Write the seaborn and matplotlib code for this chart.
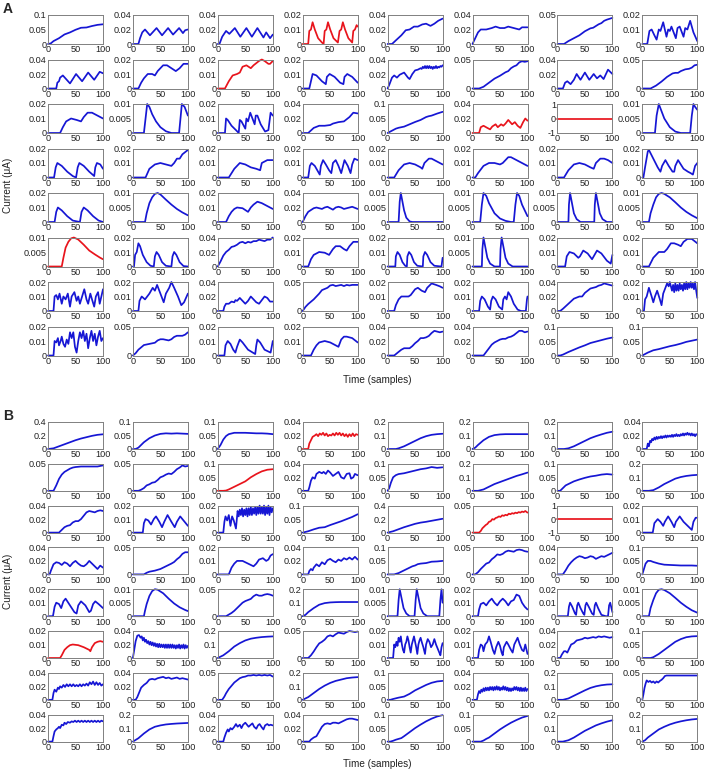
import matplotlib
matplotlib.use("Agg")
import matplotlib.pyplot as plt
import seaborn as sns

sns.set_style("white")
plt.rcParams["font.family"] = ["Liberation Sans", "DejaVu Sans"]

# ------------------------------------------------------------------
# Data: each trace is a list of (sample, current uA)
# ------------------------------------------------------------------
x_ticks = [0, 50, 100]

a_ymax = [
    [0.1, 0.04, 0.04, 0.02, 0.04, 0.04, 0.05, 0.02],
    [0.04, 0.02, 0.02, 0.02, 0.04, 0.05, 0.04, 0.05],
    [0.02, 0.01, 0.02, 0.04, 0.1, 0.04, 1, 0.01],
    [0.02, 0.02, 0.02, 0.02, 0.02, 0.02, 0.02, 0.02],
    [0.02, 0.01, 0.02, 0.04, 0.01, 0.01, 0.01, 0.01],
    [0.01, 0.02, 0.04, 0.02, 0.02, 0.01, 0.02, 0.02],
    [0.02, 0.02, 0.04, 0.05, 0.02, 0.02, 0.04, 0.02],
    [0.02, 0.05, 0.02, 0.02, 0.04, 0.04, 0.1, 0.1],
]
a_red = [(0, 3), (1, 2), (2, 5), (2, 6), (5, 0)]

a_row1 = [
    [(0, 0), (5, 0.002), (10, 0.01), (20, 0.02), (30, 0.033), (40, 0.04), (50, 0.049), (60, 0.056), (70, 0.057), (80, 0.062), (90, 0.066), (100, 0.068)],
    [(0, 0), (10, 0), (13, 0.008), (17, 0.016), (22, 0.02), (31, 0.012), (43, 0.022), (53, 0.012), (64, 0.022), (73, 0.013), (84, 0.022), (91, 0.015), (95, 0.019), (100, 0.02)],
    [(0, 0), (3, 0), (8, 0.01), (15, 0.018), (21, 0.014), (31, 0.022), (41, 0.01), (52, 0.022), (62, 0.01), (72, 0.022), (83, 0.009), (88, 0.016), (95, 0.008), (100, 0.013)],
    [(0, 0), (10, 0), (12, 0.009), (15, 0.01), (18, 0.015), (22, 0.01), (28, 0.004), (35, 0.001), (38, 0), (40, 0.009), (43, 0.01), (46, 0.015), (50, 0.01), (56, 0.004), (64, 0.001), (67, 0.009), (70, 0.01), (73, 0.015), (77, 0.01), (83, 0.004), (90, 0.001), (92, 0.009), (95, 0.01), (98, 0.013), (100, 0.012)],
    [(0, 0), (8, 0), (15, 0.005), (25, 0.012), (33, 0.019), (40, 0.02), (48, 0.024), (55, 0.024), (63, 0.027), (70, 0.028), (78, 0.025), (85, 0.028), (92, 0.032), (100, 0.035)],
    [(0, 0), (5, 0.008), (10, 0.016), (15, 0.02), (25, 0.02), (35, 0.022), (42, 0.024), (50, 0.022), (58, 0.022), (65, 0.024), (75, 0.022), (85, 0.02), (90, 0.023), (100, 0.023)],
    [(0, 0), (12, 0), (20, 0.005), (30, 0.01), (40, 0.015), (50, 0.022), (60, 0.027), (65, 0.028), (75, 0.034), (80, 0.036), (85, 0.04), (90, 0.042), (100, 0.045)],
    [(0, 0), (9, 0), (13, 0.009), (17, 0.01), (22, 0.006), (26, 0.003), (30, 0.01), (33, 0.009), (38, 0.015), (44, 0.005), (47, 0.01), (50, 0.009), (53, 0.012), (61, 0.004), (64, 0.011), (68, 0.012), (75, 0.005), (78, 0.011), (82, 0.01), (87, 0.016), (93, 0.008), (100, 0.002)],
]
a_row2 = [
    [(0, 0), (15, 0), (17, 0.008), (20, 0.01), (22, 0.015), (27, 0.018), (40, 0.007), (51, 0.02), (62, 0.01), (73, 0.022), (84, 0.012), (94, 0.023), (100, 0.021)],
    [(0, 0), (10, 0), (15, 0.004), (20, 0.007), (27, 0.01), (35, 0.01), (40, 0.009), (45, 0.012), (55, 0.016), (62, 0.016), (70, 0.014), (78, 0.012), (85, 0.014), (92, 0.017), (100, 0.017)],
    [(0, 0), (13, 0), (20, 0.005), (27, 0.009), (35, 0.01), (40, 0.011), (45, 0.015), (52, 0.016), (60, 0.014), (65, 0.016), (75, 0.019), (80, 0.02), (85, 0.019), (92, 0.017), (95, 0.017), (100, 0.019)],
    [(0, 0), (12, 0), (18, 0.01), (25, 0.009), (35, 0.005), (42, 0.003), (44, 0.008), (49, 0.01), (58, 0.008), (68, 0.004), (74, 0.003), (76, 0.008), (81, 0.01), (90, 0.008), (100, 0.004)],
    [(0, 0), (3, 0.005), (8, 0.015), (12, 0.018), (17, 0.015), (22, 0.019), (30, 0.022), (37, 0.015), (40, 0.013), (45, 0.02), (50, 0.025), (55, 0.026), (60, 0.028), (62, 0.027), (64, 0.03), (66, 0.028), (68, 0.031), (70, 0.028), (72, 0.031), (74, 0.028), (76, 0.031), (78, 0.028), (80, 0.03), (82, 0.027), (84, 0.03), (86, 0.028), (88, 0.031), (90, 0.028), (92, 0.03), (94, 0.029), (96, 0.031), (98, 0.03), (100, 0.032)],
    [(0, 0), (12, 0), (20, 0.003), (30, 0.01), (40, 0.017), (50, 0.022), (60, 0.028), (65, 0.03), (70, 0.035), (75, 0.038), (80, 0.04), (85, 0.045), (90, 0.047), (95, 0.046), (100, 0.047)],
    [(0, 0), (10, 0), (14, 0.008), (18, 0.01), (24, 0.006), (30, 0.012), (35, 0.02), (42, 0.012), (50, 0.022), (58, 0.012), (66, 0.02), (72, 0.014), (78, 0.018), (84, 0.013), (92, 0.026), (100, 0.02)],
    [(0, 0), (15, 0), (25, 0.005), (35, 0.012), (45, 0.02), (55, 0.026), (60, 0.027), (65, 0.027), (70, 0.03), (78, 0.033), (85, 0.034), (90, 0.036), (95, 0.04), (100, 0.041)],
]
a_row3 = [
    [(0, 0), (22, 0), (27, 0.004), (33, 0.008), (42, 0.01), (52, 0.009), (60, 0.008), (65, 0.011), (72, 0.014), (80, 0.014), (90, 0.012), (100, 0.01)],
    [(0, 0), (20, 0), (23, 0.005), (26, 0.01), (30, 0.009), (35, 0.0065), (42, 0.004), (50, 0.002), (60, 0.0006), (70, 0), (84, 0), (87, 0.006), (89, 0.01), (94, 0.009), (100, 0.006)],
    [(0, 0), (13, 0), (15, 0.01), (18, 0.009), (25, 0.005), (33, 0.002), (38, 0), (40, 0.009), (43, 0.008), (50, 0.003), (52, 0.01), (55, 0.008), (59, 0.014), (63, 0.01), (67, 0.006), (69, 0.012), (72, 0.012), (78, 0.006), (86, 0.001), (92, 0.002), (96, 0.014), (100, 0.012)],
    [(0, 0), (10, 0), (20, 0.007), (30, 0.01), (40, 0.01), (50, 0.011), (55, 0.013), (65, 0.015), (75, 0.016), (85, 0.022), (92, 0.028), (100, 0.027)],
    [(0, 0), (5, 0.005), (10, 0.01), (15, 0.015), (20, 0.018), (30, 0.022), (40, 0.03), (50, 0.038), (60, 0.045), (70, 0.055), (75, 0.058), (80, 0.06), (90, 0.067), (100, 0.073)],
    [(0, 0), (12, 0), (15, 0.008), (20, 0.01), (27, 0.007), (32, 0.005), (36, 0.009), (42, 0.012), (46, 0.008), (52, 0.012), (56, 0.01), (60, 0.013), (65, 0.018), (72, 0.012), (77, 0.015), (82, 0.01), (87, 0.007), (92, 0.015), (96, 0.02), (100, 0.017)],
    [(0, 0), (100, 0)],
    [(0, 0), (23, 0), (26, 0.006), (30, 0.01), (35, 0.0075), (40, 0.005), (50, 0.002), (60, 0.0005), (70, 0), (87, 0), (90, 0.006), (93, 0.01), (96, 0.009), (100, 0.008)],
]
a_row4 = [
    [(0, 0), (11, 0), (14, 0.007), (17, 0.01), (25, 0.008), (35, 0.004), (45, 0.001), (51, 0), (54, 0.007), (57, 0.01), (65, 0.008), (75, 0.004), (84, 0.001), (86, 0.007), (89, 0.01), (95, 0.009), (100, 0.006)],
    [(0, 0), (23, 0), (30, 0.006), (40, 0.009), (50, 0.01), (60, 0.009), (70, 0.008), (75, 0.01), (80, 0.013), (85, 0.013), (90, 0.016), (100, 0.019)],
    [(0, 0), (20, 0), (30, 0.006), (40, 0.01), (50, 0.009), (60, 0.007), (70, 0.006), (77, 0.005), (80, 0.01), (90, 0.012), (100, 0.012)],
    [(0, 0), (10, 0), (13, 0.008), (16, 0.01), (22, 0.008), (28, 0.004), (31, 0.002), (33, 0.008), (37, 0.012), (42, 0.009), (48, 0.005), (52, 0.003), (55, 0.01), (60, 0.012), (65, 0.008), (70, 0.003), (72, 0.006), (76, 0.012), (82, 0.008), (87, 0.003), (90, 0.009), (94, 0.013), (100, 0.012)],
    [(0, 0), (12, 0), (20, 0.005), (30, 0.009), (40, 0.01), (50, 0.009), (60, 0.007), (63, 0.006), (67, 0.01), (75, 0.013), (80, 0.013), (90, 0.011), (100, 0.009)],
    [(0, 0), (5, 0), (10, 0.003), (20, 0.008), (30, 0.01), (40, 0.01), (50, 0.009), (55, 0.01), (60, 0.012), (65, 0.014), (70, 0.014), (80, 0.012), (90, 0.01), (100, 0.008)],
    [(0, 0), (12, 0), (20, 0.005), (30, 0.009), (40, 0.01), (50, 0.009), (60, 0.007), (66, 0.006), (70, 0.01), (78, 0.013), (85, 0.013), (92, 0.012), (100, 0.01)],
    [(0, 0), (2, 0), (5, 0.007), (10, 0.018), (12, 0.019), (20, 0.013), (28, 0.007), (33, 0.004), (36, 0.008), (42, 0.012), (48, 0.008), (55, 0.004), (58, 0.004), (60, 0.008), (65, 0.012), (75, 0.006), (83, 0.004), (88, 0.003), (92, 0.002), (96, 0.008), (100, 0.01)],
]
a_row5 = [
    [(0, 0), (12, 0), (15, 0.007), (18, 0.01), (25, 0.008), (35, 0.004), (45, 0.001), (58, 0), (61, 0.007), (65, 0.01), (72, 0.008), (82, 0.004), (92, 0.001), (100, 0)],
    [(0, 0), (22, 0), (25, 0.003), (30, 0.0065), (35, 0.0085), (40, 0.0097), (45, 0.01), (50, 0.0095), (60, 0.0077), (70, 0.006), (80, 0.0045), (90, 0.0033), (100, 0.0023)],
    [(0, 0), (15, 0), (20, 0.004), (25, 0.007), (30, 0.009), (35, 0.01), (45, 0.0095), (55, 0.007), (60, 0.01), (65, 0.012), (72, 0.014), (80, 0.013), (90, 0.011), (100, 0.009)],
    [(0, 0), (5, 0.008), (10, 0.014), (20, 0.019), (25, 0.02), (30, 0.019), (35, 0.018), (40, 0.02), (45, 0.021), (50, 0.019), (55, 0.017), (60, 0.02), (65, 0.021), (70, 0.02), (75, 0.018), (80, 0.019), (85, 0.02), (90, 0.021), (100, 0.018)],
    [(0, 0), (20, 0), (22, 0.007), (24, 0.01), (27, 0.007), (30, 0.004), (34, 0.0015), (40, 0.0002), (45, 0), (100, 0)],
    [(0, 0), (14, 0), (17, 0.006), (20, 0.01), (25, 0.009), (30, 0.0065), (40, 0.003), (50, 0.0012), (60, 0.0004), (70, 0), (75, 0), (78, 0.006), (81, 0.01), (85, 0.009), (90, 0.006), (100, 0.002)],
    [(0, 0), (20, 0), (21, 0.006), (23, 0.01), (26, 0.007), (30, 0.003), (35, 0.001), (42, 0), (67, 0), (68, 0.006), (70, 0.01), (73, 0.007), (77, 0.003), (82, 0.001), (90, 0), (100, 0)],
    [(0, 0), (12, 0), (15, 0.003), (20, 0.006), (25, 0.0085), (30, 0.0097), (35, 0.01), (40, 0.0097), (50, 0.0085), (60, 0.0068), (70, 0.005), (80, 0.0035), (90, 0.0023), (100, 0.0013)],
]
a_row6 = [
    [(0, 0), (25, 0), (28, 0.003), (32, 0.0065), (37, 0.0085), (42, 0.0097), (47, 0.01), (55, 0.0093), (65, 0.0075), (75, 0.0055), (85, 0.0042), (95, 0.003), (100, 0.0025)],
    [(0, 0), (2, 0), (4, 0.008), (7, 0.01), (10, 0.016), (13, 0.014), (18, 0.008), (25, 0.003), (32, 0.0005), (38, 0), (40, 0.007), (43, 0.01), (47, 0.008), (53, 0.003), (60, 0.0005), (70, 0), (72, 0.007), (75, 0.01), (79, 0.008), (85, 0.003), (92, 0.0003), (100, 0)],
    [(0, 0), (5, 0.007), (10, 0.015), (15, 0.02), (20, 0.023), (25, 0.027), (30, 0.028), (35, 0.03), (40, 0.033), (45, 0.034), (50, 0.032), (55, 0.034), (60, 0.033), (65, 0.035), (70, 0.035), (75, 0.037), (80, 0.036), (85, 0.035), (90, 0.037), (95, 0.037), (100, 0.04)],
    [(0, 0), (10, 0), (15, 0.005), (20, 0.008), (30, 0.01), (40, 0.0095), (48, 0.008), (55, 0.012), (60, 0.014), (68, 0.014), (75, 0.012), (80, 0.011), (85, 0.014), (92, 0.017), (100, 0.017)],
    [(0, 0), (14, 0), (15, 0.007), (18, 0.01), (22, 0.008), (27, 0.003), (32, 0.0005), (35, 0), (36, 0.007), (39, 0.01), (43, 0.008), (48, 0.003), (54, 0.0005), (64, 0), (65, 0.007), (68, 0.01), (72, 0.008), (78, 0.003), (85, 0.0005), (98, 0), (100, 0.006)],
    [(0, 0), (17, 0), (18, 0.006), (20, 0.01), (23, 0.007), (27, 0.003), (32, 0.001), (40, 0), (50, 0), (51, 0.006), (53, 0.01), (56, 0.007), (60, 0.003), (65, 0.001), (73, 0), (100, 0)],
    [(0, 0), (14, 0), (17, 0.007), (22, 0.01), (30, 0.009), (38, 0.006), (41, 0.007), (47, 0.011), (55, 0.009), (63, 0.005), (66, 0.007), (72, 0.011), (80, 0.009), (90, 0.004), (97, 0.002), (100, 0.008)],
    [(0, 0), (12, 0), (20, 0.006), (30, 0.01), (40, 0.01), (45, 0.012), (52, 0.016), (58, 0.016), (65, 0.015), (70, 0.014), (75, 0.017), (82, 0.019), (90, 0.019), (100, 0.016)],
]
a_row7 = [
    [(0, 0), (10, 0), (12, 0.01), (15, 0.011), (18, 0.008), (21, 0.012), (25, 0.005), (28, 0.01), (32, 0.008), (36, 0.012), (40, 0.003), (43, 0.01), (48, 0.013), (52, 0.007), (55, 0.01), (58, 0.005), (62, 0.01), (66, 0.015), (70, 0.008), (73, 0.005), (77, 0.012), (80, 0.008), (84, 0.003), (87, 0.01), (91, 0.013), (94, 0.005), (97, 0.01), (100, 0.015)],
    [(0, 0), (10, 0), (12, 0.007), (16, 0.01), (22, 0.008), (30, 0.012), (36, 0.016), (40, 0.014), (44, 0.018), (50, 0.012), (56, 0.006), (60, 0.012), (66, 0.016), (70, 0.02), (75, 0.016), (82, 0.01), (88, 0.004), (93, 0.006), (100, 0.012)],
    [(0, 0), (10, 0), (12, 0.006), (15, 0.01), (20, 0.01), (25, 0.013), (30, 0.012), (32, 0.015), (35, 0.014), (40, 0.018), (45, 0.014), (50, 0.01), (55, 0.014), (60, 0.02), (65, 0.016), (70, 0.012), (75, 0.01), (80, 0.015), (85, 0.02), (90, 0.018), (95, 0.013), (100, 0.013)],
    [(0, 0), (5, 0.007), (10, 0.012), (15, 0.016), (20, 0.02), (25, 0.025), (30, 0.03), (35, 0.036), (40, 0.038), (45, 0.04), (50, 0.044), (55, 0.045), (60, 0.043), (65, 0.044), (70, 0.045), (75, 0.043), (80, 0.045), (85, 0.044), (90, 0.045), (100, 0.045)],
    [(0, 0), (12, 0), (15, 0.004), (20, 0.008), (25, 0.01), (30, 0.01), (38, 0.01), (42, 0.011), (50, 0.015), (55, 0.016), (62, 0.014), (68, 0.013), (72, 0.016), (80, 0.019), (88, 0.018), (95, 0.017), (100, 0.016)],
    [(0, 0), (12, 0), (14, 0.007), (17, 0.01), (22, 0.008), (28, 0.003), (32, 0.001), (34, 0.007), (37, 0.01), (42, 0.008), (48, 0.003), (54, 0.001), (56, 0.008), (59, 0.01), (62, 0.008), (65, 0.013), (70, 0.01), (75, 0.005), (82, 0.001), (88, 0), (97, 0), (99, 0.008), (100, 0.01)],
    [(0, 0), (5, 0), (10, 0.003), (20, 0.01), (30, 0.017), (40, 0.02), (45, 0.02), (50, 0.025), (55, 0.028), (60, 0.031), (65, 0.032), (70, 0.033), (75, 0.035), (80, 0.036), (85, 0.038), (90, 0.037), (100, 0.035)],
    [(0, 0), (3, 0), (5, 0.008), (8, 0.01), (12, 0.016), (17, 0.01), (20, 0.006), (23, 0.01), (27, 0.014), (32, 0.008), (35, 0.004), (38, 0.012), (42, 0.016), (45, 0.019), (48, 0.017), (50, 0.02), (52, 0.017), (54, 0.014), (56, 0.018), (58, 0.013), (60, 0.019), (62, 0.014), (64, 0.018), (66, 0.014), (68, 0.019), (70, 0.015), (72, 0.018), (74, 0.014), (76, 0.019), (78, 0.015), (80, 0.02), (82, 0.015), (84, 0.019), (86, 0.016), (88, 0.02), (90, 0.016), (92, 0.019), (94, 0.015), (96, 0.02), (98, 0.014), (100, 0.009)],
]
a_row8 = [
    [(0, 0), (10, 0), (12, 0.01), (15, 0.009), (18, 0.012), (20, 0.007), (23, 0.01), (25, 0.013), (28, 0.008), (31, 0.006), (34, 0.011), (37, 0.008), (40, 0.016), (43, 0.012), (46, 0.016), (49, 0.006), (52, 0.002), (55, 0.01), (58, 0.016), (61, 0.012), (64, 0.017), (67, 0.01), (70, 0.015), (73, 0.005), (76, 0.012), (79, 0.017), (82, 0.01), (85, 0.015), (88, 0.007), (91, 0.013), (94, 0.017), (97, 0.01), (100, 0.012)],
    [(0, 0), (5, 0.004), (10, 0.01), (15, 0.014), (20, 0.018), (30, 0.02), (40, 0.022), (45, 0.026), (50, 0.028), (55, 0.028), (60, 0.027), (65, 0.026), (70, 0.028), (75, 0.032), (80, 0.034), (85, 0.034), (90, 0.034), (95, 0.036), (100, 0.04)],
    [(0, 0), (12, 0), (14, 0.007), (18, 0.01), (23, 0.008), (28, 0.004), (32, 0.002), (35, 0.006), (40, 0.011), (45, 0.009), (55, 0.004), (68, 0.001), (70, 0.007), (72, 0.011), (77, 0.009), (85, 0.004), (96, 0.002), (100, 0.01)],
    [(0, 0), (15, 0), (20, 0.004), (25, 0.007), (30, 0.009), (40, 0.01), (50, 0.009), (60, 0.007), (65, 0.006), (70, 0.011), (75, 0.013), (80, 0.013), (90, 0.012), (100, 0.009)],
    [(0, 0), (12, 0), (20, 0.005), (25, 0.008), (30, 0.01), (40, 0.01), (45, 0.013), (50, 0.017), (55, 0.02), (60, 0.024), (65, 0.024), (70, 0.025), (75, 0.027), (80, 0.031), (85, 0.034), (90, 0.033), (95, 0.032), (100, 0.033)],
    [(0, 0), (20, 0), (25, 0.005), (30, 0.01), (35, 0.015), (40, 0.018), (45, 0.02), (50, 0.022), (55, 0.023), (60, 0.023), (65, 0.025), (70, 0.026), (75, 0.028), (80, 0.031), (85, 0.034), (90, 0.034), (95, 0.032), (100, 0.033)],
    [(0, 0), (5, 0), (10, 0.003), (20, 0.012), (30, 0.02), (40, 0.028), (50, 0.035), (60, 0.043), (70, 0.048), (80, 0.053), (90, 0.058), (100, 0.062)],
    [(0, 0), (5, 0.005), (10, 0.01), (20, 0.018), (30, 0.022), (40, 0.027), (50, 0.032), (60, 0.036), (70, 0.041), (80, 0.047), (90, 0.051), (100, 0.055)],
]

b_ymax = [
    [0.4, 0.1, 0.1, 0.04, 0.2, 0.2, 0.2, 0.04],
    [0.05, 0.05, 0.1, 0.04, 0.1, 0.2, 0.1, 0.2],
    [0.04, 0.02, 0.02, 0.1, 0.4, 0.05, 1, 0.02],
    [0.04, 0.05, 0.02, 0.04, 0.1, 0.05, 0.04, 0.1],
    [0.02, 0.01, 0.05, 0.2, 0.01, 0.02, 0.02, 0.01],
    [0.02, 0.04, 0.2, 0.05, 0.02, 0.02, 0.04, 0.1],
    [0.04, 0.04, 0.05, 0.2, 0.1, 0.04, 0.2, 0.05],
    [0.04, 0.2, 0.04, 0.04, 0.1, 0.1, 0.2, 0.2],
]
b_red = [(0, 3), (1, 2), (2, 5), (2, 6), (5, 0)]

b_row1 = [
    [(0, 0), (10, 0.01), (20, 0.04), (30, 0.07), (40, 0.1), (50, 0.13), (60, 0.155), (70, 0.175), (80, 0.195), (90, 0.21), (100, 0.218)],
    [(0, 0), (5, 0), (10, 0.005), (20, 0.025), (30, 0.04), (40, 0.05), (50, 0.056), (60, 0.058), (70, 0.057), (80, 0.058), (90, 0.057), (100, 0.056)],
    [(0, 0), (5, 0.015), (10, 0.035), (15, 0.048), (20, 0.055), (30, 0.06), (40, 0.06), (50, 0.06), (60, 0.059), (70, 0.058), (80, 0.058), (90, 0.057), (100, 0.055)],
    [(0, 0), (10, 0), (12, 0.008), (15, 0.013), (18, 0.018), (22, 0.02), (25, 0.022), (28, 0.019), (31, 0.023), (34, 0.021), (37, 0.024), (40, 0.02), (43, 0.023), (46, 0.019), (49, 0.021), (52, 0.02), (55, 0.023), (58, 0.02), (61, 0.024), (64, 0.021), (67, 0.024), (70, 0.02), (73, 0.023), (76, 0.019), (79, 0.022), (82, 0.018), (85, 0.022), (88, 0.019), (91, 0.023), (94, 0.019), (97, 0.022), (100, 0.021)],
    [(0, 0), (15, 0), (20, 0.005), (30, 0.02), (40, 0.04), (50, 0.06), (60, 0.08), (70, 0.095), (80, 0.105), (90, 0.11), (100, 0.113)],
    [(0, 0), (5, 0.01), (10, 0.03), (20, 0.065), (30, 0.09), (40, 0.103), (50, 0.108), (60, 0.11), (70, 0.11), (80, 0.11), (90, 0.11), (100, 0.11)],
    [(0, 0), (12, 0), (20, 0.005), (30, 0.02), (40, 0.04), (50, 0.06), (60, 0.08), (70, 0.095), (80, 0.108), (90, 0.12), (100, 0.128)],
    [(0, 0), (8, 0), (10, 0.008), (12, 0.004), (14, 0.012), (16, 0.01), (18, 0.015), (20, 0.013), (22, 0.017), (24, 0.014), (26, 0.018), (28, 0.015), (30, 0.018), (32, 0.016), (34, 0.019), (36, 0.016), (38, 0.019), (40, 0.017), (42, 0.02), (44, 0.017), (46, 0.02), (48, 0.018), (50, 0.02), (52, 0.018), (54, 0.021), (56, 0.018), (58, 0.021), (60, 0.019), (62, 0.022), (64, 0.019), (66, 0.021), (68, 0.019), (70, 0.022), (72, 0.02), (74, 0.023), (76, 0.02), (78, 0.023), (80, 0.021), (82, 0.024), (84, 0.021), (86, 0.023), (88, 0.02), (90, 0.023), (92, 0.02), (94, 0.022), (96, 0.019), (98, 0.022), (100, 0.021)],
]
b_row2 = [
    [(0, 0), (10, 0), (15, 0.01), (20, 0.022), (25, 0.03), (30, 0.035), (35, 0.038), (40, 0.041), (45, 0.043), (50, 0.044), (60, 0.045), (70, 0.045), (80, 0.045), (90, 0.045), (100, 0.047)],
    [(0, 0), (10, 0), (15, 0.002), (20, 0.005), (25, 0.01), (30, 0.012), (35, 0.015), (40, 0.016), (45, 0.02), (50, 0.025), (55, 0.027), (60, 0.03), (65, 0.032), (70, 0.031), (75, 0.035), (80, 0.04), (85, 0.043), (90, 0.047), (95, 0.045), (100, 0.046)],
    [(0, 0), (10, 0), (15, 0.001), (20, 0.005), (30, 0.015), (40, 0.025), (50, 0.035), (60, 0.05), (70, 0.062), (80, 0.072), (90, 0.078), (100, 0.08)],
    [(0, 0), (10, 0), (12, 0.005), (15, 0.015), (18, 0.02), (22, 0.018), (25, 0.025), (30, 0.028), (35, 0.026), (38, 0.028), (42, 0.025), (46, 0.03), (50, 0.027), (55, 0.022), (60, 0.025), (65, 0.028), (70, 0.02), (75, 0.018), (80, 0.025), (85, 0.026), (88, 0.018), (92, 0.02), (95, 0.025), (100, 0.023)],
    [(0, 0), (3, 0.01), (6, 0.03), (10, 0.05), (15, 0.058), (20, 0.062), (30, 0.065), (40, 0.07), (50, 0.075), (60, 0.08), (70, 0.083), (80, 0.088), (90, 0.085), (100, 0.087)],
    [(0, 0), (10, 0), (20, 0.01), (30, 0.03), (40, 0.05), (50, 0.065), (60, 0.08), (70, 0.095), (80, 0.11), (90, 0.122), (100, 0.135)],
    [(0, 0), (5, 0), (10, 0.01), (15, 0.02), (20, 0.025), (30, 0.035), (40, 0.042), (50, 0.048), (60, 0.053), (70, 0.056), (80, 0.06), (90, 0.062), (100, 0.06)],
    [(0, 0), (12, 0), (20, 0.005), (30, 0.025), (40, 0.05), (50, 0.07), (60, 0.09), (70, 0.102), (80, 0.11), (90, 0.115), (100, 0.118)],
]
b_row3 = [
    [(0, 0), (20, 0), (25, 0.004), (30, 0.008), (35, 0.01), (40, 0.011), (45, 0.015), (50, 0.017), (55, 0.017), (60, 0.02), (65, 0.025), (70, 0.03), (75, 0.032), (80, 0.031), (85, 0.03), (90, 0.032), (95, 0.033), (100, 0.032)],
    [(0, 0), (18, 0), (20, 0.007), (23, 0.01), (28, 0.009), (33, 0.006), (38, 0.01), (42, 0.012), (48, 0.008), (53, 0.004), (57, 0.008), (63, 0.013), (70, 0.008), (76, 0.004), (80, 0.008), (86, 0.012), (92, 0.009), (100, 0.005)],
    [(0, 0), (10, 0), (12, 0.008), (14, 0.012), (17, 0.009), (20, 0.013), (23, 0.005), (26, 0.012), (29, 0.009), (33, 0.003), (36, 0.016), (38, 0.012), (40, 0.017), (42, 0.013), (44, 0.018), (46, 0.012), (48, 0.017), (50, 0.013), (52, 0.018), (54, 0.012), (56, 0.018), (58, 0.013), (60, 0.019), (62, 0.013), (64, 0.018), (66, 0.014), (68, 0.019), (70, 0.013), (72, 0.019), (74, 0.014), (76, 0.02), (78, 0.014), (80, 0.019), (82, 0.014), (84, 0.02), (86, 0.013), (88, 0.019), (90, 0.014), (92, 0.02), (94, 0.013), (96, 0.019), (98, 0.015), (100, 0.018)],
    [(0, 0), (10, 0.005), (20, 0.012), (30, 0.018), (40, 0.02), (50, 0.028), (60, 0.035), (70, 0.042), (80, 0.05), (90, 0.058), (100, 0.068)],
    [(0, 0), (10, 0.02), (20, 0.05), (30, 0.08), (40, 0.105), (50, 0.13), (60, 0.148), (70, 0.16), (80, 0.175), (90, 0.19), (100, 0.205)],
    [(0, 0), (12, 0), (15, 0.003), (18, 0.008), (21, 0.011), (24, 0.014), (27, 0.016), (30, 0.02), (33, 0.021), (36, 0.025), (39, 0.024), (42, 0.027), (45, 0.028), (48, 0.03), (51, 0.029), (54, 0.032), (57, 0.031), (60, 0.033), (63, 0.032), (66, 0.035), (69, 0.034), (72, 0.036), (75, 0.035), (78, 0.037), (81, 0.036), (84, 0.038), (87, 0.037), (90, 0.039), (93, 0.038), (96, 0.04), (100, 0.037)],
    [(0, 0), (100, 0)],
    [(0, 0), (19, 0), (22, 0.007), (28, 0.01), (33, 0.008), (38, 0.005), (41, 0.008), (47, 0.012), (53, 0.008), (58, 0.004), (61, 0.008), (68, 0.012), (75, 0.008), (85, 0.004), (90, 0.002), (93, 0.008), (97, 0.011), (100, 0.011)],
]
b_row4 = [
    [(0, 0), (3, 0), (5, 0.005), (10, 0.015), (15, 0.018), (20, 0.017), (25, 0.014), (30, 0.018), (35, 0.016), (40, 0.012), (45, 0.017), (50, 0.02), (55, 0.016), (60, 0.013), (65, 0.012), (70, 0.015), (75, 0.02), (80, 0.016), (85, 0.012), (90, 0.008), (95, 0.013), (100, 0.01)],
    [(0, 0), (20, 0), (25, 0.003), (30, 0.005), (40, 0.007), (50, 0.01), (60, 0.015), (70, 0.02), (75, 0.023), (80, 0.028), (85, 0.032), (90, 0.038), (95, 0.041), (100, 0.041)],
    [(0, 0), (20, 0), (25, 0.005), (30, 0.008), (35, 0.01), (45, 0.01), (55, 0.008), (65, 0.006), (70, 0.008), (75, 0.011), (82, 0.012), (88, 0.01), (92, 0.011), (96, 0.014), (100, 0.015)],
    [(0, 0), (10, 0), (12, 0.005), (15, 0.008), (18, 0.006), (20, 0.01), (25, 0.015), (30, 0.012), (35, 0.018), (40, 0.015), (45, 0.021), (50, 0.023), (55, 0.02), (60, 0.018), (65, 0.022), (70, 0.02), (75, 0.024), (80, 0.022), (85, 0.025), (90, 0.022), (95, 0.026), (100, 0.022)],
    [(0, 0), (12, 0), (20, 0.005), (30, 0.015), (40, 0.025), (45, 0.03), (50, 0.033), (55, 0.038), (60, 0.04), (70, 0.042), (80, 0.047), (90, 0.048), (100, 0.05)],
    [(0, 0), (5, 0), (10, 0.004), (15, 0.01), (20, 0.015), (25, 0.02), (30, 0.022), (35, 0.028), (40, 0.032), (45, 0.037), (50, 0.036), (55, 0.038), (60, 0.042), (65, 0.044), (70, 0.043), (75, 0.042), (80, 0.045), (85, 0.046), (90, 0.045), (95, 0.043), (100, 0.042)],
    [(0, 0), (10, 0), (15, 0.006), (20, 0.013), (25, 0.018), (30, 0.022), (35, 0.025), (40, 0.027), (45, 0.026), (50, 0.024), (55, 0.025), (60, 0.027), (65, 0.026), (70, 0.023), (75, 0.025), (80, 0.027), (85, 0.026), (90, 0.028), (95, 0.03), (100, 0.032)],
    [(0, 0), (3, 0.02), (6, 0.04), (10, 0.05), (15, 0.05), (20, 0.046), (30, 0.04), (40, 0.036), (50, 0.035), (60, 0.034), (70, 0.033), (80, 0.033), (90, 0.033), (100, 0.032)],
]
b_row5 = [
    [(0, 0), (9, 0), (12, 0.007), (15, 0.01), (20, 0.009), (24, 0.006), (28, 0.011), (32, 0.013), (40, 0.008), (48, 0.003), (52, 0.002), (55, 0.008), (60, 0.011), (68, 0.008), (75, 0.003), (78, 0.004), (82, 0.009), (86, 0.011), (92, 0.009), (100, 0.006)],
    [(0, 0), (20, 0), (22, 0.002), (25, 0.0045), (30, 0.0075), (35, 0.0093), (40, 0.01), (45, 0.0098), (55, 0.0085), (65, 0.0065), (75, 0.0047), (85, 0.0033), (95, 0.0023), (100, 0.0019)],
    [(0, 0), (15, 0), (20, 0.003), (25, 0.006), (30, 0.01), (35, 0.015), (40, 0.02), (45, 0.025), (50, 0.028), (55, 0.03), (60, 0.032), (65, 0.037), (70, 0.04), (75, 0.038), (80, 0.038), (85, 0.04), (90, 0.041), (95, 0.04), (100, 0.038)],
    [(0, 0), (5, 0.01), (10, 0.03), (20, 0.06), (30, 0.085), (40, 0.097), (50, 0.102), (60, 0.104), (70, 0.105), (80, 0.105), (90, 0.105), (100, 0.105)],
    [(0, 0), (18, 0), (20, 0.006), (22, 0.01), (25, 0.007), (29, 0.003), (34, 0.001), (40, 0), (49, 0), (51, 0.006), (53, 0.01), (56, 0.007), (60, 0.003), (65, 0.001), (72, 0), (94, 0), (96, 0.006), (98, 0.01), (100, 0.005)],
    [(0, 0), (10, 0), (12, 0.005), (15, 0.009), (20, 0.01), (25, 0.008), (30, 0.011), (35, 0.013), (40, 0.01), (45, 0.008), (50, 0.011), (55, 0.013), (60, 0.011), (65, 0.008), (70, 0.011), (75, 0.012), (80, 0.016), (85, 0.015), (90, 0.01), (95, 0.007), (100, 0.005)],
    [(0, 0), (19, 0), (21, 0.007), (23, 0.01), (27, 0.007), (32, 0.002), (34, 0.001), (36, 0.008), (38, 0.01), (42, 0.006), (47, 0.002), (49, 0.001), (51, 0.008), (53, 0.01), (57, 0.007), (63, 0.002), (66, 0.001), (68, 0.008), (70, 0.01), (74, 0.006), (80, 0.001), (88, 0), (92, 0), (94, 0.008), (96, 0.01), (100, 0.003)],
    [(0, 0), (12, 0), (15, 0.003), (20, 0.006), (25, 0.0085), (30, 0.0098), (35, 0.01), (40, 0.0097), (50, 0.0085), (60, 0.0068), (70, 0.005), (80, 0.0035), (90, 0.0022), (100, 0.0013)],
]
b_row6 = [
    [(0, 0), (22, 0), (25, 0.002), (30, 0.006), (35, 0.008), (40, 0.0095), (45, 0.01), (55, 0.0095), (65, 0.008), (75, 0.006), (77, 0.005), (80, 0.008), (85, 0.011), (90, 0.012), (95, 0.0125), (100, 0.012)],
    [(0, 0), (2, 0.01), (5, 0.025), (8, 0.033), (11, 0.034), (14, 0.03), (16, 0.032), (18, 0.026), (20, 0.03), (22, 0.024), (24, 0.027), (26, 0.022), (28, 0.025), (30, 0.02), (32, 0.024), (34, 0.019), (36, 0.023), (38, 0.018), (40, 0.022), (42, 0.017), (44, 0.021), (46, 0.016), (48, 0.021), (50, 0.016), (52, 0.02), (54, 0.016), (56, 0.02), (58, 0.015), (60, 0.02), (62, 0.015), (64, 0.02), (66, 0.015), (68, 0.02), (70, 0.015), (72, 0.02), (74, 0.015), (76, 0.019), (78, 0.014), (80, 0.019), (82, 0.015), (84, 0.02), (86, 0.014), (88, 0.019), (90, 0.015), (92, 0.02), (94, 0.014), (96, 0.019), (98, 0.015), (100, 0.018)],
    [(0, 0), (10, 0.02), (20, 0.05), (30, 0.085), (40, 0.11), (50, 0.13), (60, 0.143), (70, 0.15), (80, 0.155), (90, 0.158), (100, 0.16)],
    [(0, 0), (10, 0), (15, 0.005), (20, 0.012), (25, 0.02), (30, 0.027), (35, 0.03), (40, 0.034), (45, 0.04), (50, 0.042), (55, 0.04), (60, 0.044), (65, 0.047), (70, 0.046), (75, 0.045), (80, 0.048), (85, 0.05), (90, 0.049), (95, 0.048), (100, 0.049)],
    [(0, 0), (10, 0), (12, 0.01), (14, 0.008), (16, 0.012), (18, 0.009), (20, 0.015), (22, 0.012), (24, 0.016), (26, 0.01), (28, 0.006), (30, 0.004), (32, 0.01), (34, 0.012), (36, 0.016), (38, 0.013), (40, 0.008), (42, 0.004), (44, 0.01), (46, 0.013), (48, 0.016), (50, 0.012), (52, 0.008), (54, 0.003), (56, 0.01), (58, 0.013), (60, 0.015), (62, 0.012), (65, 0.008), (68, 0.003), (70, 0.01), (73, 0.014), (76, 0.012), (79, 0.008), (82, 0.01), (85, 0.014), (88, 0.01), (91, 0.007), (94, 0.004), (96, 0.002), (98, 0.008), (100, 0.011)],
    [(0, 0), (10, 0), (12, 0.006), (15, 0.01), (18, 0.009), (20, 0.005), (23, 0.01), (27, 0.012), (30, 0.016), (33, 0.012), (37, 0.006), (40, 0.003), (43, 0.008), (47, 0.012), (50, 0.009), (53, 0.004), (55, 0.002), (57, 0.008), (62, 0.012), (65, 0.01), (70, 0.006), (73, 0.004), (76, 0.01), (82, 0.015), (86, 0.01), (90, 0.006), (93, 0.005), (96, 0.01), (100, 0.003)],
    [(0, 0), (5, 0), (8, 0.005), (12, 0.01), (15, 0.01), (18, 0.008), (22, 0.015), (25, 0.02), (30, 0.022), (35, 0.026), (40, 0.027), (45, 0.028), (50, 0.03), (55, 0.029), (60, 0.03), (65, 0.031), (70, 0.03), (75, 0.032), (80, 0.031), (85, 0.032), (90, 0.031), (95, 0.03), (100, 0.031)],
    [(0, 0), (15, 0), (20, 0.003), (30, 0.015), (40, 0.03), (50, 0.045), (60, 0.06), (70, 0.07), (80, 0.077), (90, 0.08), (100, 0.081)],
]
b_row7 = [
    [(0, 0), (8, 0), (10, 0.01), (12, 0.015), (15, 0.012), (18, 0.018), (20, 0.016), (22, 0.02), (25, 0.018), (28, 0.022), (31, 0.019), (34, 0.023), (37, 0.02), (40, 0.023), (43, 0.02), (46, 0.023), (49, 0.02), (52, 0.022), (55, 0.02), (58, 0.023), (61, 0.02), (64, 0.023), (67, 0.021), (70, 0.024), (73, 0.021), (76, 0.026), (79, 0.023), (82, 0.027), (85, 0.022), (88, 0.026), (91, 0.022), (94, 0.025), (97, 0.021), (100, 0.023)],
    [(0, 0), (5, 0), (8, 0.004), (12, 0.012), (15, 0.018), (20, 0.022), (25, 0.025), (30, 0.03), (35, 0.031), (40, 0.03), (45, 0.032), (50, 0.033), (55, 0.034), (60, 0.032), (65, 0.033), (70, 0.031), (75, 0.032), (80, 0.033), (85, 0.031), (90, 0.032), (95, 0.031), (100, 0.03)],
    [(0, 0), (8, 0), (12, 0.006), (15, 0.012), (20, 0.02), (25, 0.026), (30, 0.032), (35, 0.036), (40, 0.04), (45, 0.042), (50, 0.043), (55, 0.045), (60, 0.045), (65, 0.046), (70, 0.045), (75, 0.046), (80, 0.045), (85, 0.046), (90, 0.045), (95, 0.046), (100, 0.043)],
    [(0, 0), (10, 0.02), (20, 0.05), (30, 0.08), (40, 0.105), (50, 0.125), (60, 0.14), (70, 0.15), (80, 0.16), (90, 0.165), (100, 0.168)],
    [(0, 0), (5, 0), (10, 0.003), (20, 0.008), (30, 0.012), (40, 0.022), (50, 0.035), (60, 0.045), (70, 0.055), (80, 0.063), (90, 0.068), (100, 0.07)],
    [(0, 0), (8, 0), (10, 0.008), (12, 0.013), (14, 0.01), (16, 0.015), (18, 0.012), (20, 0.017), (22, 0.013), (24, 0.018), (26, 0.014), (28, 0.018), (30, 0.014), (32, 0.019), (34, 0.015), (36, 0.019), (38, 0.014), (40, 0.019), (42, 0.015), (44, 0.02), (46, 0.015), (48, 0.019), (50, 0.014), (52, 0.018), (54, 0.015), (56, 0.02), (58, 0.015), (60, 0.019), (62, 0.014), (64, 0.018), (66, 0.013), (68, 0.017), (70, 0.013), (72, 0.017), (74, 0.014), (76, 0.019), (78, 0.015), (80, 0.019), (82, 0.014), (84, 0.018), (86, 0.013), (88, 0.018), (90, 0.013), (92, 0.017), (94, 0.013), (96, 0.018), (98, 0.013), (100, 0.016)],
    [(0, 0), (10, 0), (20, 0.01), (30, 0.03), (40, 0.05), (50, 0.07), (60, 0.088), (70, 0.1), (80, 0.108), (90, 0.113), (100, 0.115)],
    [(0, 0), (2, 0.01), (4, 0.022), (6, 0.03), (8, 0.036), (11, 0.033), (14, 0.035), (17, 0.032), (20, 0.034), (23, 0.031), (26, 0.034), (29, 0.032), (32, 0.035), (35, 0.037), (38, 0.04), (41, 0.044), (44, 0.045), (50, 0.045), (60, 0.045), (70, 0.045), (80, 0.045), (90, 0.045), (100, 0.045)],
]
b_row8 = [
    [(0, 0), (8, 0), (10, 0.008), (12, 0.015), (15, 0.018), (18, 0.02), (20, 0.022), (22, 0.02), (25, 0.025), (28, 0.024), (30, 0.028), (33, 0.026), (36, 0.029), (40, 0.028), (43, 0.03), (46, 0.029), (49, 0.031), (52, 0.029), (55, 0.031), (58, 0.029), (61, 0.031), (64, 0.029), (67, 0.031), (70, 0.029), (73, 0.031), (76, 0.029), (79, 0.031), (82, 0.029), (85, 0.031), (88, 0.029), (91, 0.031), (94, 0.029), (97, 0.031), (100, 0.03)],
    [(0, 0), (10, 0.025), (20, 0.06), (30, 0.09), (40, 0.11), (50, 0.12), (60, 0.127), (70, 0.131), (80, 0.134), (90, 0.136), (100, 0.138)],
    [(0, 0), (10, 0), (12, 0.006), (15, 0.013), (18, 0.018), (20, 0.015), (23, 0.02), (26, 0.018), (30, 0.022), (33, 0.026), (36, 0.022), (40, 0.025), (43, 0.02), (46, 0.025), (50, 0.028), (53, 0.025), (56, 0.022), (60, 0.025), (63, 0.027), (66, 0.022), (70, 0.019), (73, 0.024), (76, 0.026), (80, 0.021), (83, 0.018), (86, 0.024), (90, 0.026), (93, 0.024), (96, 0.025), (100, 0.024)],
    [(0, 0), (12, 0), (15, 0.003), (20, 0.006), (25, 0.008), (30, 0.015), (35, 0.022), (40, 0.026), (45, 0.027), (50, 0.026), (55, 0.028), (60, 0.028), (65, 0.027), (70, 0.029), (75, 0.031), (80, 0.033), (85, 0.034), (90, 0.034), (95, 0.033), (100, 0.032)],
    [(0, 0), (5, 0), (10, 0.003), (15, 0.007), (20, 0.01), (25, 0.013), (30, 0.02), (40, 0.035), (50, 0.05), (60, 0.063), (70, 0.075), (80, 0.085), (90, 0.093), (100, 0.098)],
    [(0, 0), (15, 0), (20, 0.004), (25, 0.01), (30, 0.015), (40, 0.03), (50, 0.045), (60, 0.058), (70, 0.07), (80, 0.08), (90, 0.089), (100, 0.095)],
    [(0, 0), (10, 0), (20, 0.01), (30, 0.03), (40, 0.055), (50, 0.08), (60, 0.1), (70, 0.12), (80, 0.135), (90, 0.148), (100, 0.158)],
    [(0, 0), (5, 0.01), (10, 0.03), (20, 0.06), (30, 0.09), (40, 0.11), (50, 0.127), (60, 0.14), (70, 0.15), (80, 0.158), (90, 0.164), (100, 0.168)],
]

a_rows = [a_row1, a_row2, a_row3, a_row4, a_row5, a_row6, a_row7, a_row8]
b_rows = [b_row1, b_row2, b_row3, b_row4, b_row5, b_row6, b_row7, b_row8]

# ------------------------------------------------------------------
# Layout (pixels of the 708x772 canvas)
# ------------------------------------------------------------------
W, H = 708, 772
BLUE = "#1616d4"
RED = "#e8141c"
GRID_LEFT, COL_PITCH, BOX_W = 48, 84.9, 55

fig = plt.figure(figsize=(W / 100, H / 100), dpi=100)


def y_ticks_for(top_v):
    # MATLAB-style auto ticks: the 0.05 axes only get end ticks
    if top_v == 1:
        return [-1, 0, 1]
    if top_v == 0.05:
        return [0, 0.05]
    return [0, top_v / 2, top_v]


def draw_panel(rows, ymax, red, top_px, pitch_px, box_h):
    for i, row in enumerate(rows):
        for j, pts in enumerate(row):
            left = GRID_LEFT + COL_PITCH * j
            top = top_px + pitch_px * i
            ax = fig.add_axes([left / W, 1 - (top + box_h) / H, BOX_W / W, box_h / H])
            xs = [p[0] for p in pts]
            ys = [p[1] for p in pts]
            color = RED if (i, j) in red else BLUE
            sns.lineplot(x=xs, y=ys, ax=ax, color=color, linewidth=1.25,
                         estimator=None, sort=False, clip_on=False)
            top_v = ymax[i][j]
            yt = y_ticks_for(top_v)
            ax.set_ylim(-1 if top_v == 1 else 0, top_v)
            ax.set_xlim(0, 100)
            ax.set_xticks(x_ticks)
            ax.set_yticks(yt)
            ax.set_yticklabels([f"{v:g}" for v in yt])
            ax.set_xlabel("")
            ax.set_ylabel("")
            ax.tick_params(labelsize=6.6, pad=1, length=2, direction="in",
                           color="#777777", labelcolor="#222222")
            for s in ax.spines.values():
                s.set_color("#808080")
                s.set_linewidth(0.7)


draw_panel(a_rows, a_ymax, a_red, 15, 44.5, 29)
draw_panel(b_rows, b_ymax, b_red, 422, 41.8, 27)

# panel letters and shared axis labels
fig.text(3 / W, 1 - 2 / H, "A", fontsize=10, fontweight="bold", va="top", ha="left")
fig.text(3 / W, 1 - 409 / H, "B", fontsize=10, fontweight="bold", va="top", ha="left")
for yc in (185, 581):
    fig.text(8 / W, 1 - yc / H, "Current (\u03bcA)", fontsize=7.2, rotation=90,
             va="center", ha="center", color="#222222")
for yc in (380, 764):
    fig.text(377 / W, 1 - yc / H, "Time (samples)", fontsize=7.2,
             va="center", ha="center", color="#222222")

fig.savefig("out.png", dpi=100)
